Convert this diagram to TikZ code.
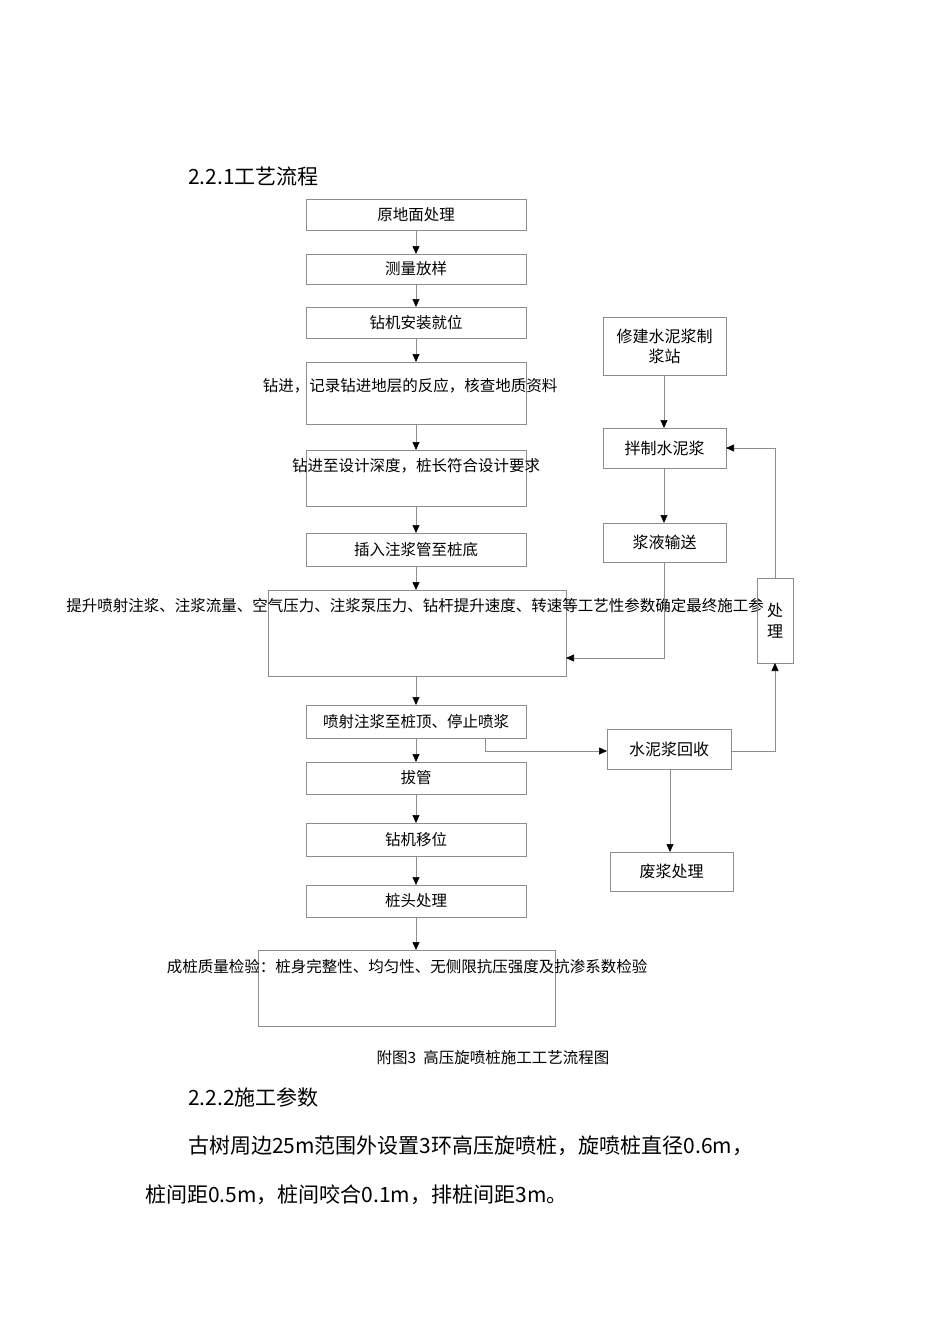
\documentclass[tikz,border=0pt]{standalone}
\usepackage{fontspec}
\setmainfont{Noto Sans CJK SC}
\usetikzlibrary{arrows.meta}
\begin{document}
\begin{tikzpicture}[x=1pt,y=-1pt,
 bx/.style={draw=black!45,line width=0.6pt},
 ln/.style={draw=black!45,line width=0.6pt},
 ar/.style={ln,-{Triangle[black,length=8pt,width=7pt]}},
 t/.style={font=\fontsize{15.5}{18}\selectfont,inner sep=0pt},
 r/.style={font=\fontsize{16}{19}\selectfont,inner sep=0pt},
 h/.style={font=\fontsize{21}{24}\selectfont,inner sep=0pt,anchor=west}]
\useasboundingbox[fill=white] (0,0) rectangle (950,1344);
\node[h] (h1) at (188,176) {2.2.1工艺流程};
\draw[bx] (306,199) rectangle (526,230) node[t,midway] (b1) {原地面处理};
\draw[bx] (306,254) rectangle (526,284) node[t,midway] (b2) {测量放样};
\draw[bx] (306,307) rectangle (526,338) node[t,midway] (b3) {钻机安装就位};
\draw[bx] (306,362) rectangle (526,424); \node[t] (b4) at (410,386) {钻进，记录钻进地层的反应，核查地质资料};
\draw[bx] (306,450) rectangle (526,506); \node[t] (b5) at (416,466) {钻进至设计深度，桩长符合设计要求};
\draw[bx] (306,533) rectangle (526,566) node[t,midway] (b6) {插入注浆管至桩底};
\draw[bx] (268,590) rectangle (566,676); \node[t] (b7) at (415,606) {提升喷射注浆、注浆流量、空气压力、注浆泵压力、钻杆提升速度、转速等工艺性参数确定最终施工参};
\draw[bx] (306,705) rectangle (526,738) node[t,midway] (b8) {喷射注浆至桩顶、停止喷浆};
\draw[bx] (306,762) rectangle (526,794) node[t,midway] (b9) {拔管};
\draw[bx] (306,823) rectangle (526,856) node[t,midway] (b10) {钻机移位};
\draw[bx] (306,885) rectangle (526,917) node[t,midway] (b11) {桩头处理};
\draw[bx] (258,950) rectangle (555,1026); \node[t] (b12) at (407,967) {成桩质量检验：桩身完整性、均匀性、无侧限抗压强度及抗渗系数检验};
\node[t] (cap) at (493,1058) {附图3\ \ 高压旋喷桩施工工艺流程图};
\draw[bx] (603,317) rectangle (726,375) node[r,midway,align=center,font=\fontsize{16}{20}\selectfont] (r1) {修建水泥浆制\\浆站};
\draw[bx] (603,428) rectangle (726,468) node[r,midway] (r2) {拌制水泥浆};
\draw[bx] (603,523) rectangle (726,562) node[r,midway] (r3) {浆液输送};
\draw[bx] (757,578) rectangle (793,663) node[r,midway,align=center,font=\fontsize{16}{21}\selectfont] (r4) {处\\理};
\draw[bx] (607,729) rectangle (731,769) node[r,midway] (r5) {水泥浆回收};
\draw[bx] (610,852) rectangle (733,891) node[r,midway] (r6) {废浆处理};
\foreach \a/\b in {230/254,284/307,338/362,424/450,506/533,566/590,676/705,738/762,794/823,856/885,917/950}
 \draw[ar] (416,\a) -- (416,\b);
\draw[ar] (664,375) -- (664,428);
\draw[ar] (664,468) -- (664,523);
\draw[ar] (664,562) -- (664,658) -- (566,658);
\draw[ar] (485,738) -- (485,751) -- (607,751);
\draw[ar] (731,751) -- (775,751) -- (775,663);
\draw[ar] (775,578) -- (775,448) -- (726,448);
\draw[ar] (670,769) -- (670,852);
\node[h] (h2) at (188,1097) {2.2.2施工参数};
\node[h] (p1) at (188,1146) {古树周边25m范围外设置3环高压旋喷桩，旋喷桩直径0.6m，};
\node[h] (p2) at (145,1195) {桩间距0.5m，桩间咬合0.1m，排桩间距3m。};
\end{tikzpicture}
\end{document}
